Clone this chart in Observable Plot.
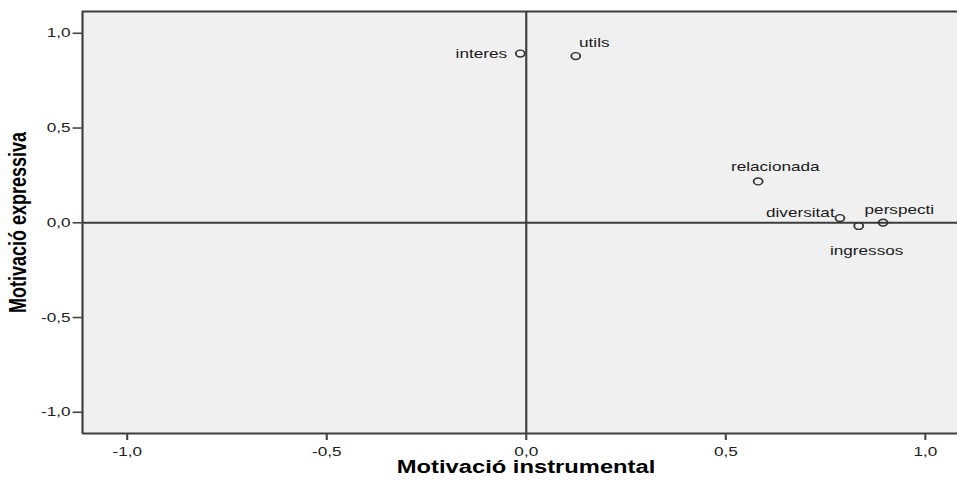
<!DOCTYPE html>
<html>
<head>
<meta charset="utf-8">
<script src="https://cdn.jsdelivr.net/npm/d3@7"></script>
<script src="https://cdn.jsdelivr.net/npm/@observablehq/plot@0.6"></script>
<style>
  html, body { margin: 0; padding: 0; background: #fff; overflow: hidden; }
</style>
</head>
<body>
<div id="chart"></div>
<script>
// Component loadings of each item
const items = ["interes", "utils", "relacionada", "diversitat", "ingressos", "perspecti"];
const instrumental = [-0.015, 0.124, 0.581, 0.786, 0.833, 0.894];
const expressiva = [0.893, 0.880, 0.218, 0.025, -0.017, 0.001];

const xTicks = [-1, -0.5, 0, 0.5, 1];
const yTicks = [-1, -0.5, 0, 0.5, 1];
const xTitle = "Motivació instrumental";
const yTitle = "Motivació expressiva";

const xDomain = [-1.112, 1.081];
const yDomain = [-1.112, 1.115];

const points = items.map((name, i) => ({name, x: instrumental[i], y: expressiva[i]}));

// The chart is laid out in a narrower space and then widened horizontally
const outW = 957, outH = 482;
const stretch = 1.32;
const W = Math.round(outW / stretch);

const decimalComma = d => d.toFixed(1).replace(".", ",");

// Where each item label sits relative to its point
const placement = {
  interes:     {textAnchor: "end",    dx: -10,  dy: 0},
  utils:       {textAnchor: "start",  dx: 2.5,  dy: -13},
  relacionada: {textAnchor: "middle", dx: 13,   dy: -14.5},
  diversitat:  {textAnchor: "end",    dx: -4,   dy: -5},
  perspecti:   {textAnchor: "start",  dx: -14,  dy: -12.5},
  ingressos:   {textAnchor: "middle", dx: 6,    dy: 24.5}
};

const labelMarks = items.map(name =>
  Plot.text(points.filter(d => d.name === name), {
    x: "x", y: "y", text: "name",
    ...placement[name],
    fontSize: 13, fill: "#1a1a1a"
  })
);

const chart = Plot.plot({
  width: W,
  height: outH,
  marginLeft: 62,
  marginRight: 0,
  marginTop: 11,
  marginBottom: 49,
  style: {fontFamily: "'Liberation Sans', Arial, sans-serif", background: "#fff"},
  x: {domain: xDomain, label: null},
  y: {domain: yDomain, label: null},
  marks: [
    Plot.frame({fill: "#f0f0f0", stroke: null}),
    // plot area border (left, top, bottom)
    Plot.ruleX([xDomain[0]], {stroke: "#3c3c3c", strokeWidth: 1.6}),
    Plot.ruleY([yDomain[0], yDomain[1]], {stroke: "#3c3c3c", strokeWidth: 2}),
    // reference lines through the origin
    Plot.ruleX([0], {stroke: "#3c3c3c", strokeWidth: 1.6}),
    Plot.ruleY([0], {stroke: "#3c3c3c", strokeWidth: 2}),
    Plot.axisX(xTicks, {
      tickSize: 7, tickPadding: 6, tickFormat: decimalComma,
      fontSize: 13, fill: "#222", stroke: "#444", strokeWidth: 1.6, label: null
    }),
    Plot.axisY(yTicks, {
      tickSize: 7, tickPadding: 2, tickFormat: decimalComma,
      fontSize: 13, fill: "#222", stroke: "#444", strokeWidth: 1.6, label: null
    }),
    Plot.dot(points, {x: "x", y: "y", r: 3.4, stroke: "#333", strokeWidth: 1.4, fill: "none"}),
    ...labelMarks,
    Plot.text([xTitle], {
      frameAnchor: "bottom", dx: 4.5, dy: 34, lineAnchor: "middle", textAnchor: "middle",
      fontSize: 18, fontWeight: "bold", fill: "#000"
    }),
    Plot.text([yTitle], {
      frameAnchor: "left", dx: -48.5, rotate: -90, lineAnchor: "middle", textAnchor: "middle",
      fontSize: 18, fontWeight: "bold", fill: "#000"
    })
  ]
});

chart.setAttribute("width", outW);
chart.setAttribute("height", outH);
chart.setAttribute("preserveAspectRatio", "none");
chart.style.width = outW + "px";
chart.style.height = outH + "px";
chart.style.maxWidth = "none";
chart.style.display = "block";
document.getElementById("chart").appendChild(chart);
</script>
</body>
</html>
